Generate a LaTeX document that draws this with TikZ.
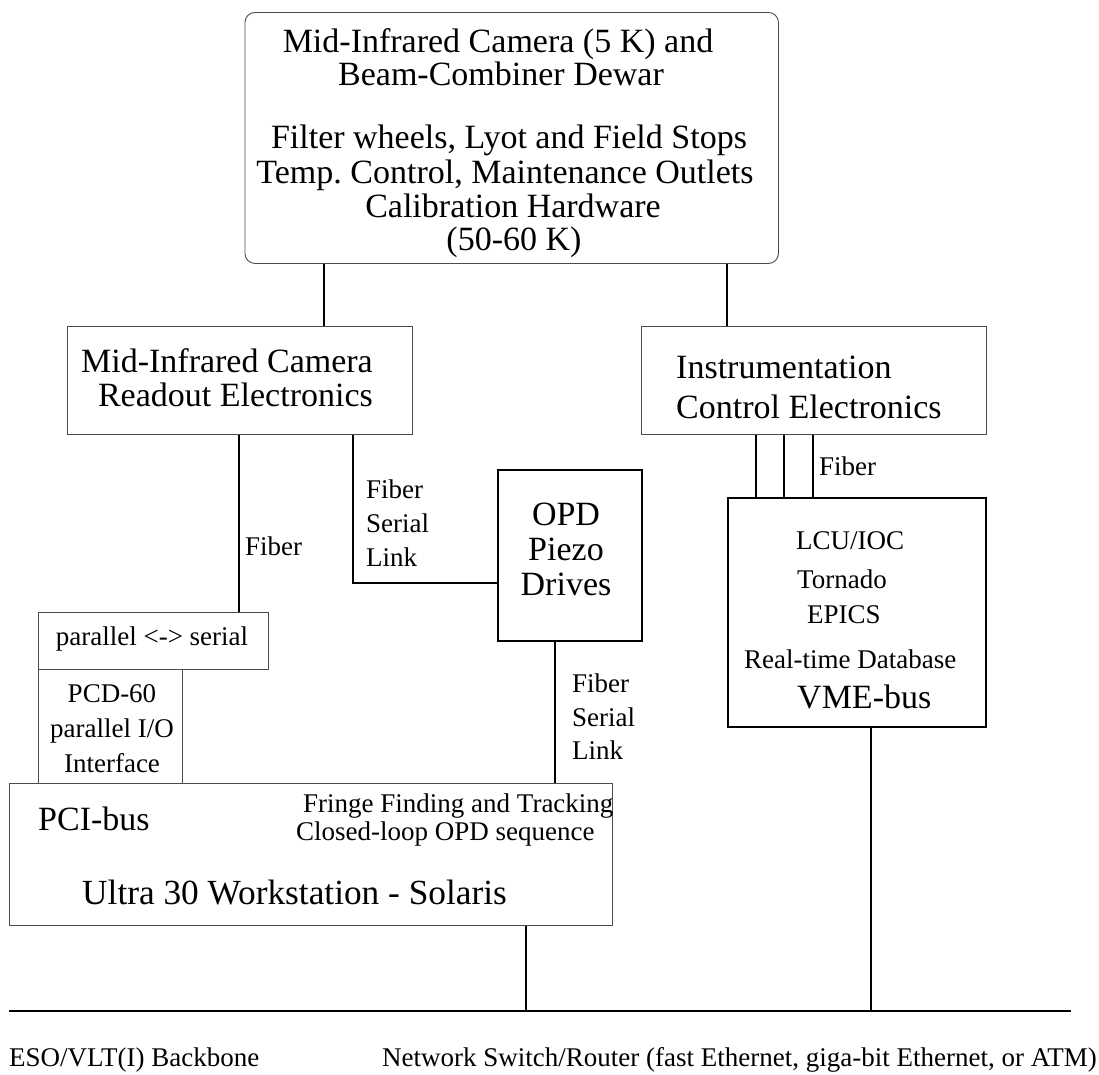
\documentclass[tikz,border=0pt]{standalone}
\usepackage{fontspec}
\setmainfont{Liberation Serif}
\newcommand\FBig{\fontsize{34}{34}\selectfont}
\newcommand\FBigger{\fontsize{35.3}{35.3}\selectfont}
\newcommand\FSmall{\fontsize{27}{27}\selectfont}
\frenchspacing
\begin{document}
\begin{tikzpicture}[x=1pt,y=-1pt,
  thinbox/.style={draw=black!70,line width=0.9pt,rectangle,inner sep=0pt,anchor=north west},
  thickbox/.style={draw=black,line width=1.6pt,rectangle,inner sep=0pt,anchor=north west},
  wire/.style={draw=black,line width=1.3pt},
  bus/.style={draw=black,line width=1.8pt},
  big/.style={inner sep=0pt,font=\FBig},
  small/.style={inner sep=0pt,font=\FSmall}]
\useasboundingbox (0,0) rectangle (1099,1074);

% boxes
\node[thinbox,rounded corners=10pt,minimum width=533.5pt,minimum height=251pt] (top) at (244.5,12) {};
\node[thinbox,minimum width=345pt,minimum height=108pt] (readout) at (67,326) {};
\node[thinbox,minimum width=345pt,minimum height=108pt] (instr) at (641,326) {};
\node[thickbox,minimum width=144pt,minimum height=171pt] (opd) at (497,469) {};
\node[thickbox,minimum width=258pt,minimum height=229pt] (vme) at (727,497) {};
\node[thinbox,minimum width=230pt,minimum height=57pt] (par) at (38,612) {};
\node[thinbox,minimum width=144pt,minimum height=114pt] (pcd) at (38,669) {};
\node[thinbox,minimum width=603pt,minimum height=142pt] (pci) at (9,783) {};
\coordinate (bbL) at (9,1011);
\coordinate (bbR) at (1071,1011);

% top box text
\node[big,anchor=base] (t1) at (498,52) {Mid-Infrared Camera (5 K) and};
\node[big,anchor=base] (t2) at (501,85) {Beam-Combiner Dewar};
\node[big,anchor=base] (t3) at (509,148) {Filter wheels, Lyot and Field Stops};
\node[big,anchor=base] (t4) at (505,183) {Temp. Control, Maintenance Outlets};
\node[big,anchor=base] (t5) at (513,217) {Calibration Hardware};
\node[big,anchor=base] (t6) at (514,250) {(50-60 K)};

% readout text
\node[big,anchor=base east] (r1) at (373,372) {Mid-Infrared Camera};
\node[big,anchor=base east] (r2) at (373,406) {Readout Electronics};

% instrumentation text
\node[big,anchor=base west] (i1) at (676,378) {Instrumentation};
\node[big,anchor=base west] (i2) at (676,418) {Control Electronics};

% OPD text
\node[big,anchor=base] (o1) at (566,525) {OPD};
\node[big,anchor=base] (o2) at (566,560) {Piezo};
\node[big,anchor=base] (o3) at (566,595) {Drives};

% VME text
\node[small,anchor=base west] (v1) at (796,549) {LCU/IOC};
\node[small,anchor=base west] (v2) at (797,588) {Tornado};
\node[small,anchor=base west] (v3) at (807,623) {EPICS};
\node[small,anchor=base west] (v4) at (744,668) {Real-time Database};
\node[big,anchor=base west] (v5) at (797,708) {VME-bus};

% parallel / PCD text
\node[small,anchor=base] (p1) at (152,645) {parallel <-> serial};
\node[small,anchor=base] (p2) at (112,702) {PCD-60};
\node[small,anchor=base] (p3) at (112,737) {parallel I/O};
\node[small,anchor=base] (p4) at (112,772) {Interface};

% PCI text
\node[big,anchor=base west] (w1) at (38,830) {PCI-bus};
\node[small,anchor=base west] (w2) at (303,812) {Fringe Finding and Tracking};
\node[small,anchor=base west] (w3) at (296,840) {Closed-loop OPD sequence};
\node[inner sep=0pt,font=\FBigger,anchor=base west] (w4) at (82,904) {Ultra 30 Workstation - Solaris};

% connector labels
\node[small,anchor=base west] (l1) at (245,555) {Fiber};
\node[small,anchor=base west] (l2) at (366,498) {Fiber};
\node[small,anchor=base west] (l3) at (366,532) {Serial};
\node[small,anchor=base west] (l4) at (366,566) {Link};
\node[small,anchor=base west] (l5) at (819,475) {Fiber};
\node[small,anchor=base west] (l6) at (572,692) {Fiber};
\node[small,anchor=base west] (l7) at (572,726) {Serial};
\node[small,anchor=base west] (l8) at (572,759) {Link};

% bottom text
\node[small,anchor=base west] (b1) at (9,1066) {ESO/VLT(I) Backbone};
\node[small,anchor=base west] (b2) at (382,1066) {Network Switch/Router (fast Ethernet, giga-bit Ethernet, or ATM)};

% connectors
\draw[wire] (top.south -| 324,0) -- (readout.north -| 324,0);
\draw[wire] (top.south -| 727,0) -- (instr.north -| 727,0);
\draw[wire] (readout.south -| 239,0) -- (par.north -| 239,0);
\draw[wire] (readout.south -| 353,0) |- (opd.west |- 0,583);
\draw[wire] (opd.south -| 555,0) -- (pci.north -| 555,0);
\draw[wire] (instr.south -| 756,0) -- (vme.north -| 756,0);
\draw[wire] (instr.south -| 784,0) -- (vme.north -| 784,0);
\draw[wire] (instr.south -| 813,0) -- (vme.north -| 813,0);
\draw[bus] (bbL) -- (bbR);
\draw[wire] (pci.south -| 526,0) -- (bbL -| 526,0);
\draw[wire] (vme.south -| 871,0) -- (bbL -| 871,0);
\end{tikzpicture}
\end{document}
